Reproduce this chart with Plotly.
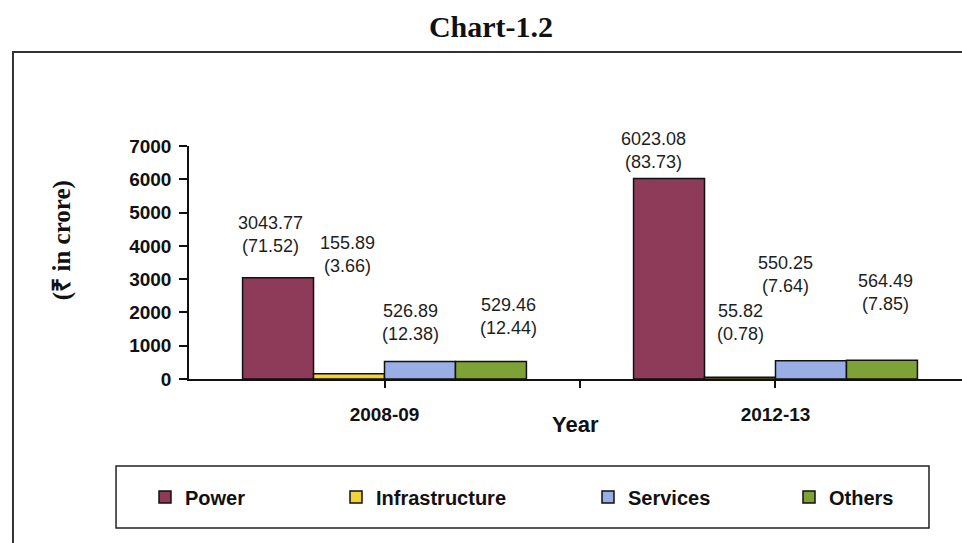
import plotly.graph_objects as go

# ---- data ----
years = ["2008-09", "2012-13"]
sectors = ["Power", "Infrastructure", "Services", "Others"]
power = [3043.77, 6023.08]
infrastructure = [155.89, 55.82]
services = [526.89, 550.25]
others = [529.46, 564.49]
power_pct = [71.52, 83.73]
infrastructure_pct = [3.66, 0.78]
services_pct = [12.38, 7.64]
others_pct = [12.44, 7.85]
y_ticks = [0, 1000, 2000, 3000, 4000, 5000, 6000, 7000]

values = [power, infrastructure, services, others]
pcts = [power_pct, infrastructure_pct, services_pct, others_pct]

# ---- style ----
colors = ["#8E3A59", "#F2D43A", "#9AAEE6", "#7FA236"]
SANS = "Liberation Sans, Arial, sans-serif"
SERIF = "Liberation Serif, Times New Roman, serif"
BARGAP = 0.274
# manual label nudges (px) per sector, per year
label_dx = [[-8, -16], [-2, 0], [-9, -25], [18, 4]]
label_dy = [[43, 28], [119, 55], [39, 86], [45, 68]]
# legend entry left edges (px in the 962-wide page)
legend_left_px = [145, 336, 588, 789]

xpos = list(range(len(years)))
legend_ids = ["legend", "legend2", "legend3", "legend4"]

fig = go.Figure()
for i, name in enumerate(sectors):
    fig.add_trace(go.Bar(
        x=xpos, y=values[i], name=name, legend=legend_ids[i],
        marker=dict(color=colors[i], line=dict(color="#111111", width=1.5)),
        hoverinfo="skip",
    ))

# data labels
group_w = 1 - BARGAP
n = len(sectors)
annotations = []
for i in range(n):
    off = -group_w / 2 + group_w / n * (i + 0.5)
    for j, xv in enumerate(xpos):
        annotations.append(dict(
            x=xv + off, y=values[i][j], xref="x", yref="y",
            text=f"{values[i][j]:.2f}<br>({pcts[i][j]:.2f})",
            showarrow=False, xanchor="center", yanchor="middle",
            xshift=label_dx[i][j], yshift=label_dy[i][j],
            font=dict(family=SANS, size=18, color="#1e1e1e"),
        ))

# axis titles as annotations
annotations.append(dict(text="Year", x=0.5, y=-0.197, xref="paper", yref="paper",
                        showarrow=False, xanchor="center", yanchor="middle",
                        font=dict(family=SANS, size=22, color="#111111", weight="bold")))
annotations.append(dict(text="(₹ in crore)", x=-0.164, y=0.597, xref="paper", yref="paper",
                        showarrow=False, xanchor="center", yanchor="middle", textangle=-90,
                        font=dict(family=SERIF, size=25, color="#111111", weight="bold")))

shapes = [
    # outer frame
    dict(type="rect", xref="paper", yref="paper", x0=-0.2277, x1=1.05, y0=-0.95, y1=1.4034,
         line=dict(color="#333333", width=2), layer="below"),
    # legend frame
    dict(type="rect", xref="paper", yref="paper", x0=-0.0944, x1=0.9573, y0=-0.6395, y1=-0.3734,
         line=dict(color="#222222", width=1.5), layer="below"),
]

legend_style = dict(orientation="h", xref="container", xanchor="left",
                    yref="container", y=1 - 497 / 543, yanchor="middle",
                    font=dict(family=SANS, size=20, color="#111111", weight="bold"),
                    bgcolor="rgba(0,0,0,0)", borderwidth=0)
legends = {lid: dict(legend_style, x=legend_left_px[k] / 962) for k, lid in enumerate(legend_ids)}

fig.update_layout(
    width=962, height=543, autosize=False,
    margin=dict(l=189, r=0, t=146, b=164),
    paper_bgcolor="white", plot_bgcolor="white",
    barmode="group", bargap=BARGAP, bargroupgap=0,
    title=dict(text="Chart-1.2", x=491 / 962, xref="container", xanchor="center",
               y=1 - 26 / 543, yref="container", yanchor="middle",
               font=dict(family=SERIF, size=30, color="#111111", weight="bold")),
    showlegend=True,
    annotations=annotations,
    shapes=shapes,
    **legends,
)
fig.update_xaxes(
    range=[-0.5, 1.477], tickvals=[0, 0.5, 1], ticktext=[years[0], "", years[1]],
    ticks="outside", ticklen=7, tickwidth=1.5, tickcolor="#111111",
    showline=True, linecolor="#111111", linewidth=1.5, showgrid=False, zeroline=False,
    tickfont=dict(family=SANS, size=19, color="#111111", weight="bold"),
    ticklabelstandoff=10, fixedrange=True,
)
fig.update_yaxes(
    range=[0, 7000], tickvals=y_ticks,
    ticks="outside", ticklen=8, tickwidth=1.5, tickcolor="#111111",
    showline=True, linecolor="#111111", linewidth=1.5, showgrid=False, zeroline=False,
    tickfont=dict(family=SANS, size=19, color="#111111", weight="bold"),
    ticklabelstandoff=4, fixedrange=True,
)

fig.write_html("out.html")
